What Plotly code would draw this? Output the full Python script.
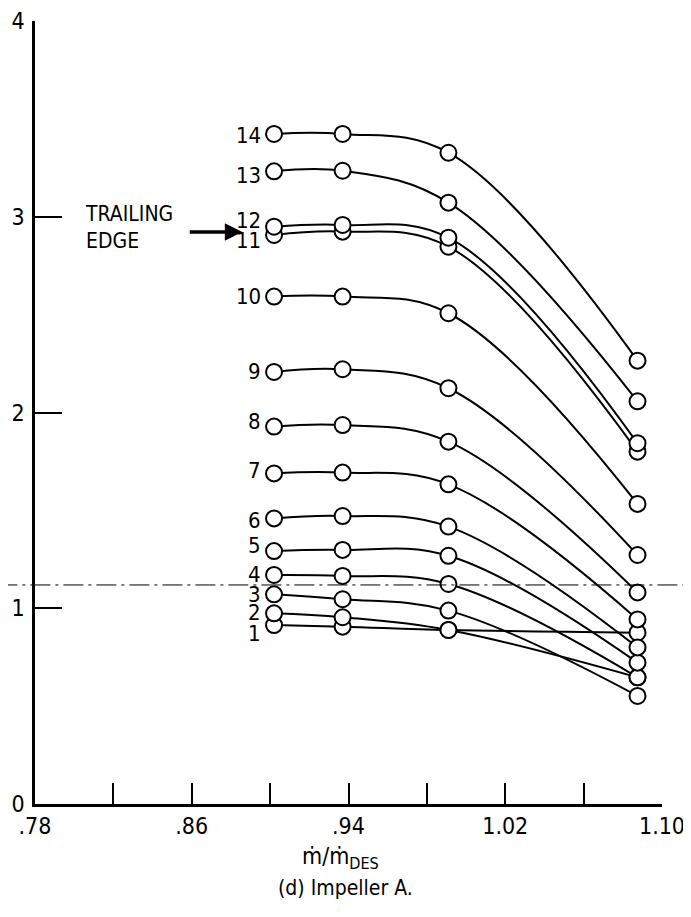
import plotly.graph_objects as go

# ---- data ----
mass_flow = [0.902, 0.937, 0.991, 1.0875]
station_names = ["1", "2", "3", "4", "5", "6", "7", "8", "9", "10", "11", "12", "13", "14"]
s1 = [0.914, 0.906, 0.889, 0.875]
s2 = [0.974, 0.954, 0.889, 0.647]
s3 = [1.071, 1.046, 0.988, 0.552]
s4 = [1.170, 1.165, 1.124, 0.647]
s5 = [1.292, 1.298, 1.268, 0.722]
s6 = [1.459, 1.471, 1.417, 0.800]
s7 = [1.689, 1.693, 1.633, 0.943]
s8 = [1.928, 1.936, 1.851, 1.081]
s9 = [2.207, 2.221, 2.124, 1.272]
s10 = [2.592, 2.592, 2.507, 1.533]
s11 = [2.907, 2.924, 2.847, 1.800]
s12 = [2.949, 2.958, 2.893, 1.843]
s13 = [3.232, 3.235, 3.072, 2.057]
s14 = [3.423, 3.423, 3.327, 2.265]
series = [s1, s2, s3, s4, s5, s6, s7, s8, s9, s10, s11, s12, s13, s14]

x_tick_vals = [0.78, 0.82, 0.86, 0.90, 0.94, 0.98, 1.02, 1.06, 1.10]
x_tick_text = [".78", "", ".86", "", ".94", "", "1.02", "", "1.10"]
y_tick_vals = [0, 1, 2, 3, 4]
y_tick_text = ["0", "1", "2", "3", "4"]
reference_level = 1.119

# label pixel nudges (style only)
label_yshift = [-8, 1, 0, 0, 6, -2, 3, 5, 0, 0, -6, 6, -4, -2]

FONT = "Liberation Sans Narrow, DejaVu Sans Condensed, Arial Narrow, sans-serif"

fig = go.Figure()
for name, ys in zip(station_names, series):
    fig.add_trace(go.Scatter(
        x=mass_flow, y=ys, mode="lines+markers", name=name,
        line=dict(color="black", width=2, shape="spline", smoothing=1.1),
        marker=dict(symbol="circle", size=16, color="white",
                    line=dict(color="black", width=2)),
        showlegend=False, cliponaxis=False,
    ))

for name, ys, dy in zip(station_names, series, label_yshift):
    fig.add_annotation(x=mass_flow[0], y=ys[0], text=name, showarrow=False,
                       xanchor="right", yanchor="middle", xshift=-11, yshift=dy,
                       font=dict(family=FONT, size=22, color="black"))

# Trailing edge note and arrow
fig.add_annotation(x=0.8043, y=2.943, text="TRAILING<br>EDGE", showarrow=False,
                   xanchor="left", yanchor="middle", align="left",
                   font=dict(family=FONT, size=21, color="black"))
fig.add_annotation(x=0.8858, y=2.922, ax=-54, ay=0, text="", showarrow=True,
                   arrowhead=2, arrowsize=1.0, arrowwidth=3.5, arrowcolor="black")

# dash-dot reference line across the page
fig.add_shape(type="line", xref="paper", yref="y", x0=-0.06, x1=1.05,
              y0=reference_level, y1=reference_level,
              line=dict(color="black", width=1, dash="20px,5px,3px,5px"))

# axis title and caption
fig.add_annotation(xref="paper", yref="paper", x=0.487, y=-0.047,
                   text="m\u0307/m\u0307<sub>DES</sub>", showarrow=False,
                   xanchor="center", yanchor="top",
                   font=dict(family=FONT, size=23, color="black"))
fig.add_annotation(xref="paper", yref="paper", x=0.495, y=-0.09,
                   text="(d) Impeller A.", showarrow=False,
                   xanchor="center", yanchor="top",
                   font=dict(family=FONT, size=21, color="black"))

fig.update_xaxes(range=[0.78, 1.10], tickvals=x_tick_vals, ticktext=x_tick_text,
                 ticks="inside", ticklen=21, tickwidth=2, tickcolor="black",
                 showline=True, linecolor="black", linewidth=2.5,
                 showgrid=False, zeroline=False, automargin=False,
                 ticklabeloverflow="allow",
                 tickfont=dict(family=FONT, size=23, color="black"))
fig.update_yaxes(range=[0, 4], tickvals=y_tick_vals, ticktext=y_tick_text,
                 ticks="inside", ticklen=27, tickwidth=2, tickcolor="black",
                 showline=True, linecolor="black", linewidth=2.5,
                 showgrid=False, zeroline=False, automargin=False,
                 ticklabelstandoff=3, ticklabeloverflow="allow",
                 tickfont=dict(family=FONT, size=23, color="black"))

# page body has an 8px default margin, so the figure is drawn 8px in from the corner
fig.update_layout(width=683, height=909, plot_bgcolor="white", paper_bgcolor="white",
                  margin=dict(l=27, r=29, t=13, b=113, autoexpand=False))

fig.write_html("out.html")
